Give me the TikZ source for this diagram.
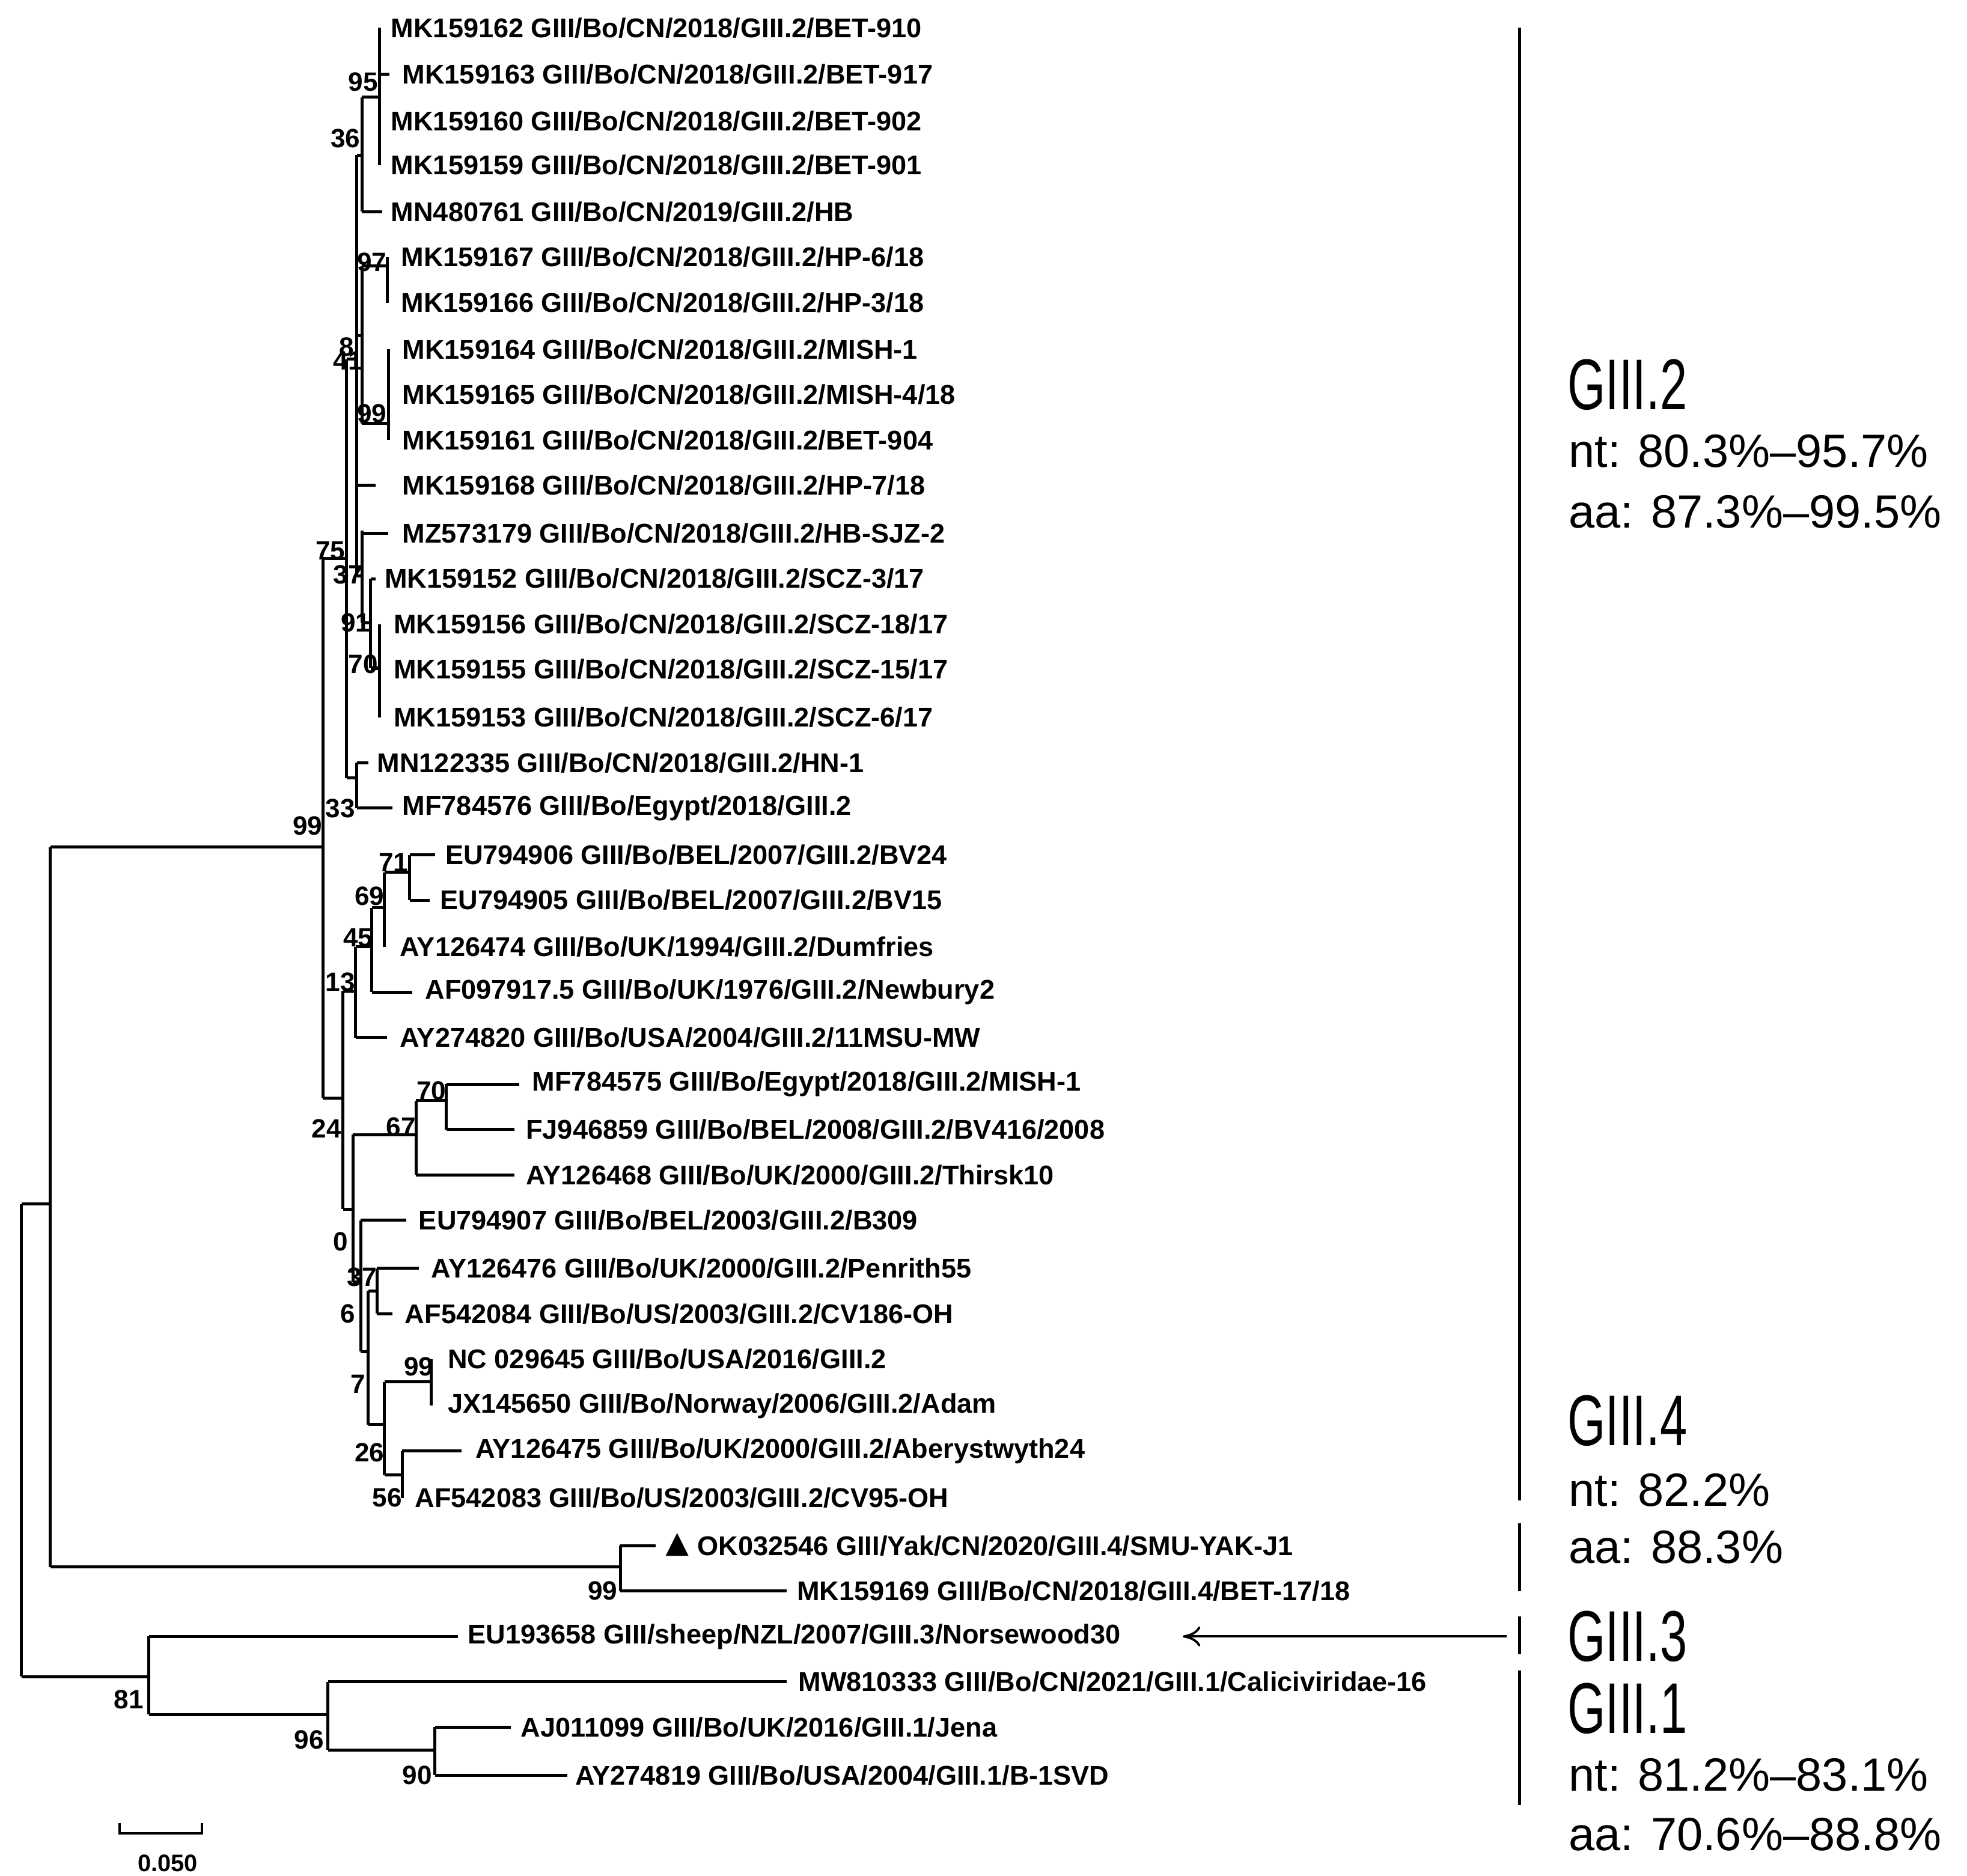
\documentclass[tikz,border=0pt]{standalone}
\usepackage{fontspec}
\usepackage{graphicx}
\setmainfont{Liberation Sans}
\usetikzlibrary{arrows.meta}
\newcommand{\grp}[1]{\scalebox{0.68}[1]{#1}}
\begin{document}
\begin{tikzpicture}[x=1pt,y=-1pt,line width=2.4pt,
  leaf/.style={anchor=west,inner sep=0pt,font=\fontsize{21.5}{21.5}\selectfont\bfseries},
  bs/.style={inner sep=0pt,font=\fontsize{21}{21}\selectfont\bfseries},
  big/.style={anchor=west,inner sep=0pt,font=\fontsize{57}{57}\selectfont},
  mid/.style={anchor=west,inner sep=0pt,font=\fontsize{37}{37}\selectfont}]
\useasboundingbox (0,0) rectangle (1560,1488);
% leaves
\node[leaf] (L1) at (309,22) {MK159162 GIII/Bo/CN/2018/GIII.2/BET-910};
\node[leaf] (L2) at (318,59) {MK159163 GIII/Bo/CN/2018/GIII.2/BET-917};
\node[leaf] (L3) at (309,96) {MK159160 GIII/Bo/CN/2018/GIII.2/BET-902};
\node[leaf] (L4) at (309,131) {MK159159 GIII/Bo/CN/2018/GIII.2/BET-901};
\node[leaf] (L5) at (309,168) {MN480761 GIII/Bo/CN/2019/GIII.2/HB};
\node[leaf] (L6) at (317,204) {MK159167 GIII/Bo/CN/2018/GIII.2/HP-6/18};
\node[leaf] (L7) at (317,240) {MK159166 GIII/Bo/CN/2018/GIII.2/HP-3/18};
\node[leaf] (L8) at (318,277) {MK159164 GIII/Bo/CN/2018/GIII.2/MISH-1};
\node[leaf] (L9) at (318,313) {MK159165 GIII/Bo/CN/2018/GIII.2/MISH-4/18};
\node[leaf] (L10) at (318,349) {MK159161 GIII/Bo/CN/2018/GIII.2/BET-904};
\node[leaf] (L11) at (318,385) {MK159168 GIII/Bo/CN/2018/GIII.2/HP-7/18};
\node[leaf] (L12) at (318,423) {MZ573179 GIII/Bo/CN/2018/GIII.2/HB-SJZ-2};
\node[leaf] (L13) at (304,459) {MK159152 GIII/Bo/CN/2018/GIII.2/SCZ-3/17};
\node[leaf] (L14) at (311,495) {MK159156 GIII/Bo/CN/2018/GIII.2/SCZ-18/17};
\node[leaf] (L15) at (311,531) {MK159155 GIII/Bo/CN/2018/GIII.2/SCZ-15/17};
\node[leaf] (L16) at (311,569) {MK159153 GIII/Bo/CN/2018/GIII.2/SCZ-6/17};
\node[leaf] (L17) at (298,605) {MN122335 GIII/Bo/CN/2018/GIII.2/HN-1};
\node[leaf] (L18) at (318,641) {MF784576 GIII/Bo/Egypt/2018/GIII.2};
\node[leaf] (L19) at (352,678) {EU794906 GIII/Bo/BEL/2007/GIII.2/BV24};
\node[leaf] (L20) at (348,714) {EU794905 GIII/Bo/BEL/2007/GIII.2/BV15};
\node[leaf] (L21) at (316,751) {AY126474 GIII/Bo/UK/1994/GIII.2/Dumfries};
\node[leaf] (L22) at (336,787) {AF097917.5 GIII/Bo/UK/1976/GIII.2/Newbury2};
\node[leaf] (L23) at (316,823) {AY274820 GIII/Bo/USA/2004/GIII.2/11MSU-MW};
\node[leaf] (L24) at (421,860) {MF784575 GIII/Bo/Egypt/2018/GIII.2/MISH-1};
\node[leaf] (L25) at (416,896) {FJ946859 GIII/Bo/BEL/2008/GIII.2/BV416/2008};
\node[leaf] (L26) at (416,932) {AY126468 GIII/Bo/UK/2000/GIII.2/Thirsk10};
\node[leaf] (L27) at (331,968) {EU794907 GIII/Bo/BEL/2003/GIII.2/B309};
\node[leaf] (L28) at (341,1006) {AY126476 GIII/Bo/UK/2000/GIII.2/Penrith55};
\node[leaf] (L29) at (320,1042) {AF542084 GIII/Bo/US/2003/GIII.2/CV186-OH};
\node[leaf] (L30) at (354,1078) {NC 029645 GIII/Bo/USA/2016/GIII.2};
\node[leaf] (L31) at (354,1115) {JX145650 GIII/Bo/Norway/2006/GIII.2/Adam};
\node[leaf] (L32) at (376,1151) {AY126475 GIII/Bo/UK/2000/GIII.2/Aberystwyth24};
\node[leaf] (L33) at (328,1188) {AF542083 GIII/Bo/US/2003/GIII.2/CV95-OH};
\node[leaf] (L34) at (552,1226) {OK032546 GIII/Yak/CN/2020/GIII.4/SMU-YAK-J1};
\node[leaf] (L35) at (631,1262) {MK159169 GIII/Bo/CN/2018/GIII.4/BET-17/18};
\node[leaf] (L36) at (370,1298) {EU193658 GIII/sheep/NZL/2007/GIII.3/Norsewood30};
\node[leaf] (L37) at (632,1334) {MW810333 GIII/Bo/CN/2021/GIII.1/Caliciviridae-16};
\node[leaf] (L38) at (412,1370) {AJ011099 GIII/Bo/UK/2016/GIII.1/Jena};
\node[leaf] (L39) at (455,1408) {AY274819 GIII/Bo/USA/2004/GIII.1/B-1SVD};
\fill (537,1216) -- (528,1234) -- (546,1234) -- cycle;
% tree
\draw (17,955) -- (17,1330);
\draw (17,955) -- (40,955); \draw (40,672) -- (40,1243);
\draw (40,672) -- (256,672); \draw (256,443) -- (256,871);
\draw (256,443) -- (275,443); \draw (275,285) -- (275,617);
\draw (275,285) -- (283,285); \draw (283,123) -- (283,457);
\draw (283,123) -- (287,123); \draw (287,77) -- (287,168);
\draw (287,77) -- (301,77); \draw (301,22) -- (301,131); \draw (301,59) -- (309,59);
\draw (287,168) -- (303,168);
\draw (283,266) -- (287,266); \draw (287,211) -- (287,336);
\draw (287,211) -- (307,211); \draw (307,204) -- (307,240);
\draw (287,336) -- (308,336); \draw (308,277) -- (308,349);
\draw (283,385) -- (298,385);
\draw (283,457) -- (287,457); \draw (287,421) -- (287,494);
\draw (287,423) -- (308,423);
\draw (287,494) -- (294,494); \draw (294,459) -- (294,530); \draw (294,459) -- (298,459);
\draw (294,530) -- (301,530); \draw (301,495) -- (301,569);
\draw (275,617) -- (283,617); \draw (283,605) -- (283,641);
\draw (283,605) -- (292,605); \draw (283,641) -- (311,641);
\draw (256,871) -- (272,871); \draw (272,786) -- (272,959);
\draw (272,786) -- (282,786); \draw (282,751) -- (282,823);
\draw (282,751) -- (295,751); \draw (295,720) -- (295,787);
\draw (295,787) -- (327,787);
\draw (295,720) -- (305,720); \draw (305,692) -- (305,751);
\draw (305,692) -- (325,692); \draw (325,678) -- (325,714);
\draw (325,678) -- (345,678); \draw (325,714) -- (341,714);
\draw (282,823) -- (307,823);
\draw (272,959) -- (280,959); \draw (280,900) -- (280,1017);
\draw (280,900) -- (330,900); \draw (330,873) -- (330,932);
\draw (330,873) -- (354,873); \draw (354,860) -- (354,896);
\draw (354,860) -- (412,860); \draw (354,896) -- (408,896);
\draw (330,932) -- (408,932);
\draw (280,1017) -- (286,1017); \draw (286,968) -- (286,1072);
\draw (286,968) -- (322,968);
\draw (286,1072) -- (292,1072); \draw (292,1024) -- (292,1130);
\draw (292,1024) -- (299,1024); \draw (299,1006) -- (299,1042);
\draw (299,1006) -- (332,1006); \draw (299,1042) -- (311,1042);
\draw (292,1130) -- (305,1130); \draw (305,1096) -- (305,1170);
\draw (305,1096) -- (342,1096); \draw (342,1078) -- (342,1115);
\draw (305,1170) -- (319,1170); \draw (319,1151) -- (319,1188);
\draw (319,1151) -- (366,1151);
\draw (40,1243) -- (492,1243); \draw (492,1226) -- (492,1262);
\draw (492,1226) -- (520,1226); \draw (492,1262) -- (624,1262);
\draw (17,1330) -- (118,1330); \draw (118,1298) -- (118,1360);
\draw (118,1298) -- (363,1298);
\draw (118,1360) -- (260,1360); \draw (260,1334) -- (260,1388);
\draw (260,1334) -- (624,1334);
\draw (260,1388) -- (345,1388); \draw (345,1370) -- (345,1408);
\draw (345,1370) -- (405,1370); \draw (345,1408) -- (450,1408);
% bootstrap
\foreach \t/\x/\y in {95/288/65,36/274/110,97/295/208,99/295/328,75/262/437,37/276/456,91/282/494,70/288/527,33/270/641,99/244/655,71/312/684,69/293/711,45/284/744,13/270/779,70/342/865,67/318/894,24/259/895,0/270/985,37/287/1013,6/276/1042,7/284/1098,26/293/1152,56/307/1188,99/332/1084,99/478/1262,81/102/1348,96/245/1380,90/331/1408}
  \node[bs] at (\x,\y) {\t};
\node[bs] (b8) at (275,275) {8};
\node[bs] (b41) at (276,286) {41};
% right side
\draw (1205,22) -- (1205,1190);
\draw (1205,1208) -- (1205,1262);
\draw (1205,1282) -- (1205,1312);
\draw (1205,1325) -- (1205,1432);
\node[big] (g2) at (1242,305) {\grp{GIII.2}};
\node[mid] at (1243,358) {nt: 80.3\%–95.7\%};
\node[mid] at (1243,406) {aa: 87.3\%–99.5\%};
\node[big] (g4) at (1242,1127) {\grp{GIII.4}};
\node[mid] at (1243,1182) {nt: 82.2\%};
\node[mid] at (1243,1227) {aa: 88.3\%};
\node[big] (g3) at (1242,1298) {\grp{GIII.3}};
\node[big] (g1) at (1242,1355) {\grp{GIII.1}};
\node[mid] at (1243,1408) {nt: 81.2\%–83.1\%};
\node[mid] at (1243,1455) {aa: 70.6\%–88.8\%};
\coordinate (ar) at (1195,1298);
\coordinate (at) at (938,1298);
\draw[line width=1.8pt,-{To[length=14pt,width=16pt]}] (ar) -- (at);
% scale bar
\draw[line width=2pt] (95,1446) -- (95,1454) -- (160,1454) -- (160,1446);
\node[bs,font=\fontsize{19}{19}\selectfont\bfseries] at (133,1478) {0.050};
\end{tikzpicture}
\end{document}
